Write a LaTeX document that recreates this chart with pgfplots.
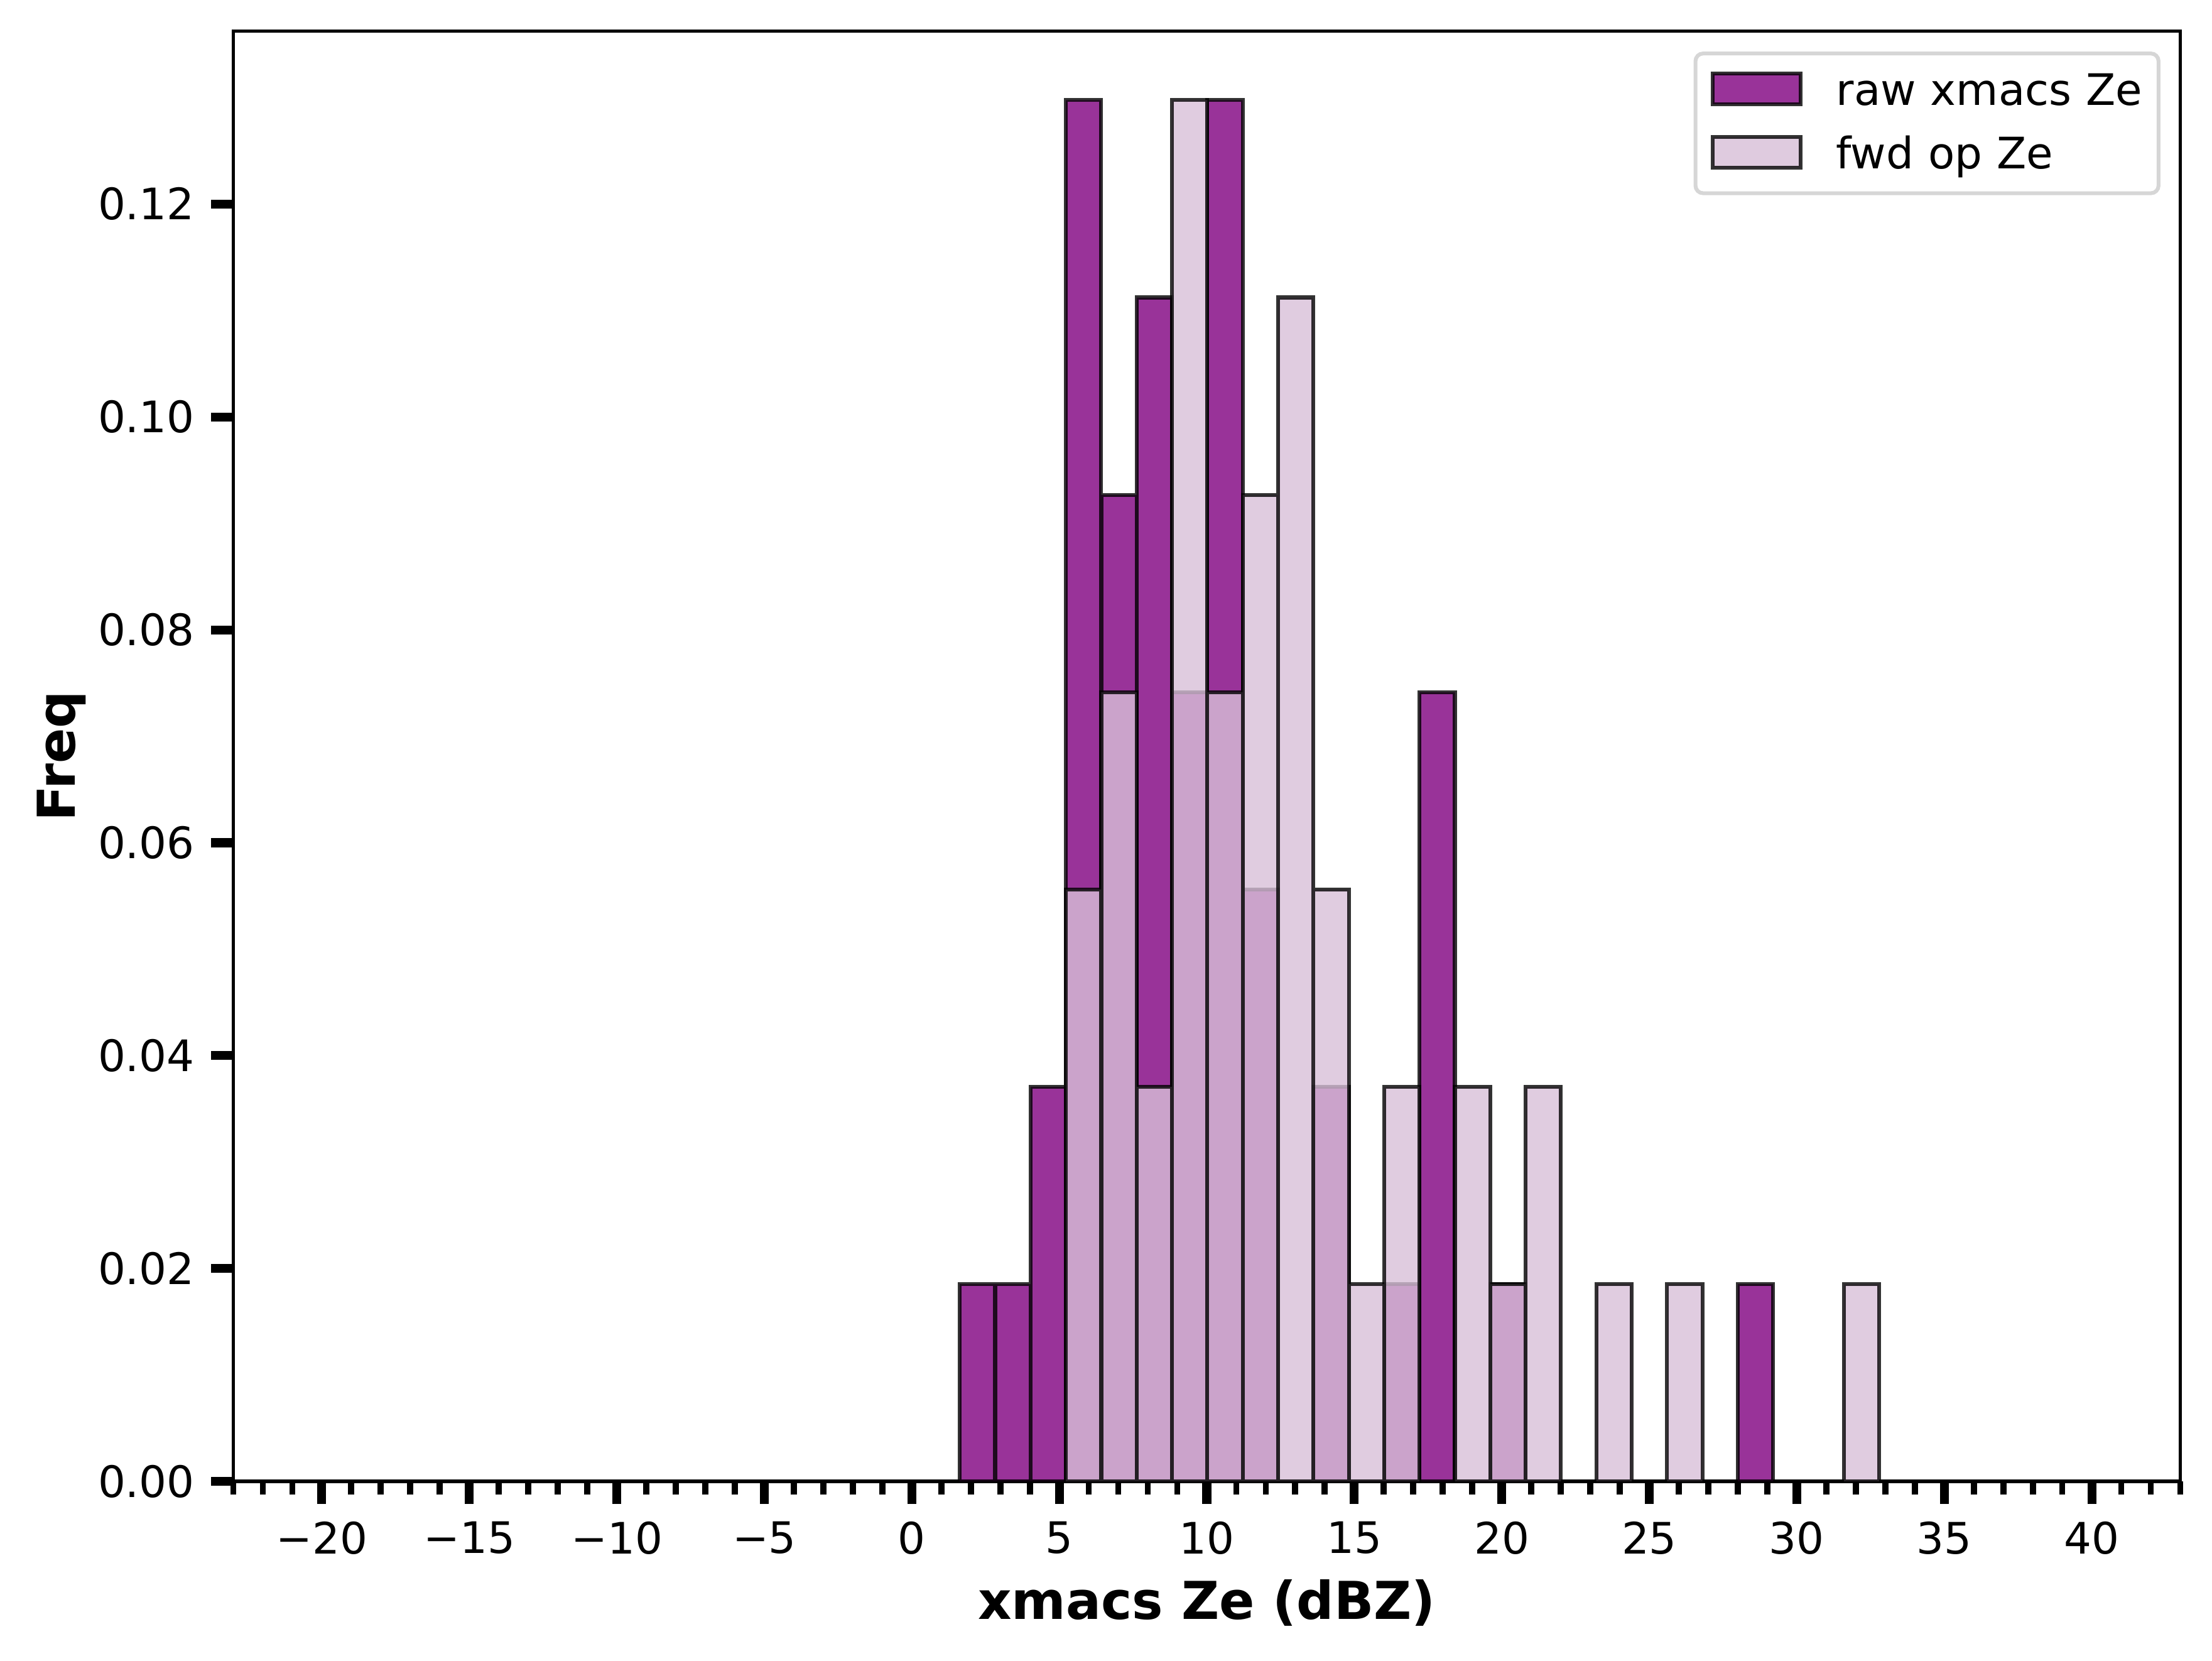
\documentclass[border=0pt]{standalone}
\usepackage{pgfplots}
\pgfplotsset{compat=1.18}
\usepackage{pgfplotstable}
\usepackage{fontspec}
\setmainfont{DejaVu Sans}
\definecolor{rawc}{RGB}{128,0,128}
\definecolor{fwdc}{RGB}{216,191,216}
\definecolor{leggray}{RGB}{214,214,214}

% bin centre, density (count / (N * binwidth)), N = 45, bin width = 1.1988
\pgfplotstableread{
x y
2.226 0.018537
3.425 0.018537
4.624 0.037074
5.823 0.129759
7.022 0.092685
8.220 0.111222
9.419 0.074148
10.618 0.129759
11.817 0.055611
14.214 0.037074
16.612 0.018537
17.811 0.074148
20.208 0.018537
28.600 0.018537
}\rawdata

\pgfplotstableread{
x y
5.823 0.055611
7.022 0.074148
8.220 0.037074
9.419 0.129759
10.618 0.074148
11.817 0.092685
13.016 0.111222
14.214 0.055611
15.413 0.018537
16.612 0.037074
19.010 0.037074
20.208 0.018537
21.407 0.037074
23.805 0.018537
26.202 0.018537
32.196 0.018537
}\fwddata

\pgfplotsset{
  mylegimg/.style={legend image code/.code={\draw[##1, sharp corners] (0pt,0.24pt) rectangle (22.9pt,8.24pt);}},
}

\begin{document}
\begin{tikzpicture}
\useasboundingbox (0,0) rectangle (576.33pt,432.65pt);
\begin{axis}[
  at={(60.79pt,46.75pt)}, anchor=south west,
  scale only axis, width=507.27pt, height=377.8pt,
  xmin=-23, xmax=43, ymin=0, ymax=0.13625,
  axis line style={line width=0.9pt, black},
  tick pos=left, tick align=outside,
  xtick={-20,-15,-10,-5,0,5,10,15,20,25,30,35,40},
  xticklabels={−20,−15,−10,−5,0,5,10,15,20,25,30,35,40},
  minor xtick={-23,-22,...,43},
  ytick={0,0.02,0.04,0.06,0.08,0.10,0.12},
  yticklabels={0.00,0.02,0.04,0.06,0.08,0.10,0.12},
  major tick length=5.8pt, minor tick length=3.4pt,
  major tick style={line width=2.3pt, black},
  minor tick style={line width=1.6pt, black},
  tick label style={font=\fontsize{11.3}{13}\selectfont},
  xticklabel style={anchor=north, inner sep=0pt},
  yticklabel style={anchor=east, inner sep=0pt},
  xticklabel shift=4.4pt, yticklabel shift=4.1pt,
  xlabel={xmacs Ze (dBZ)}, ylabel={Freq},
  label style={font=\fontsize{13.6}{16}\selectfont\bfseries},
  xlabel style={at={(axis description cs:0.5,-0.09516)}, anchor=base, inner sep=0pt},
  ylabel style={at={(axis description cs:-0.08113,0.5)}, anchor=base, inner sep=0pt},
  legend style={at={(axis description cs:1,1)}, anchor=north east,
    xshift=-5.65pt, yshift=-5.84pt,
    draw=leggray, line width=1pt, rounded corners=2pt, fill=white, outer sep=0pt,
    inner xsep=3.98pt, inner ysep=1.6pt, column sep=8.8pt, row sep=0pt,
    font=\fontsize{11.3}{13}\selectfont,
    nodes={inner sep=0pt, outer sep=0pt, text height=11.82pt, text depth=4.78pt},
    cells={anchor=base west},
    /tikz/every even column/.append style={text width=80.0pt, align=left}},
]
\addplot[ybar, bar width=1.1988, bar shift=0pt, fill=rawc, fill opacity=0.8,
  draw=black, draw opacity=0.8, line width=1pt, mylegimg] table[x=x,y=y] {\rawdata};
\addlegendentry{raw xmacs Ze}
\addplot[ybar, bar width=1.1988, bar shift=0pt, fill=fwdc, fill opacity=0.8,
  draw=black, draw opacity=0.8, line width=1pt, mylegimg] table[x=x,y=y] {\fwddata};
\addlegendentry{fwd op Ze}
\end{axis}
\end{tikzpicture}
\end{document}
